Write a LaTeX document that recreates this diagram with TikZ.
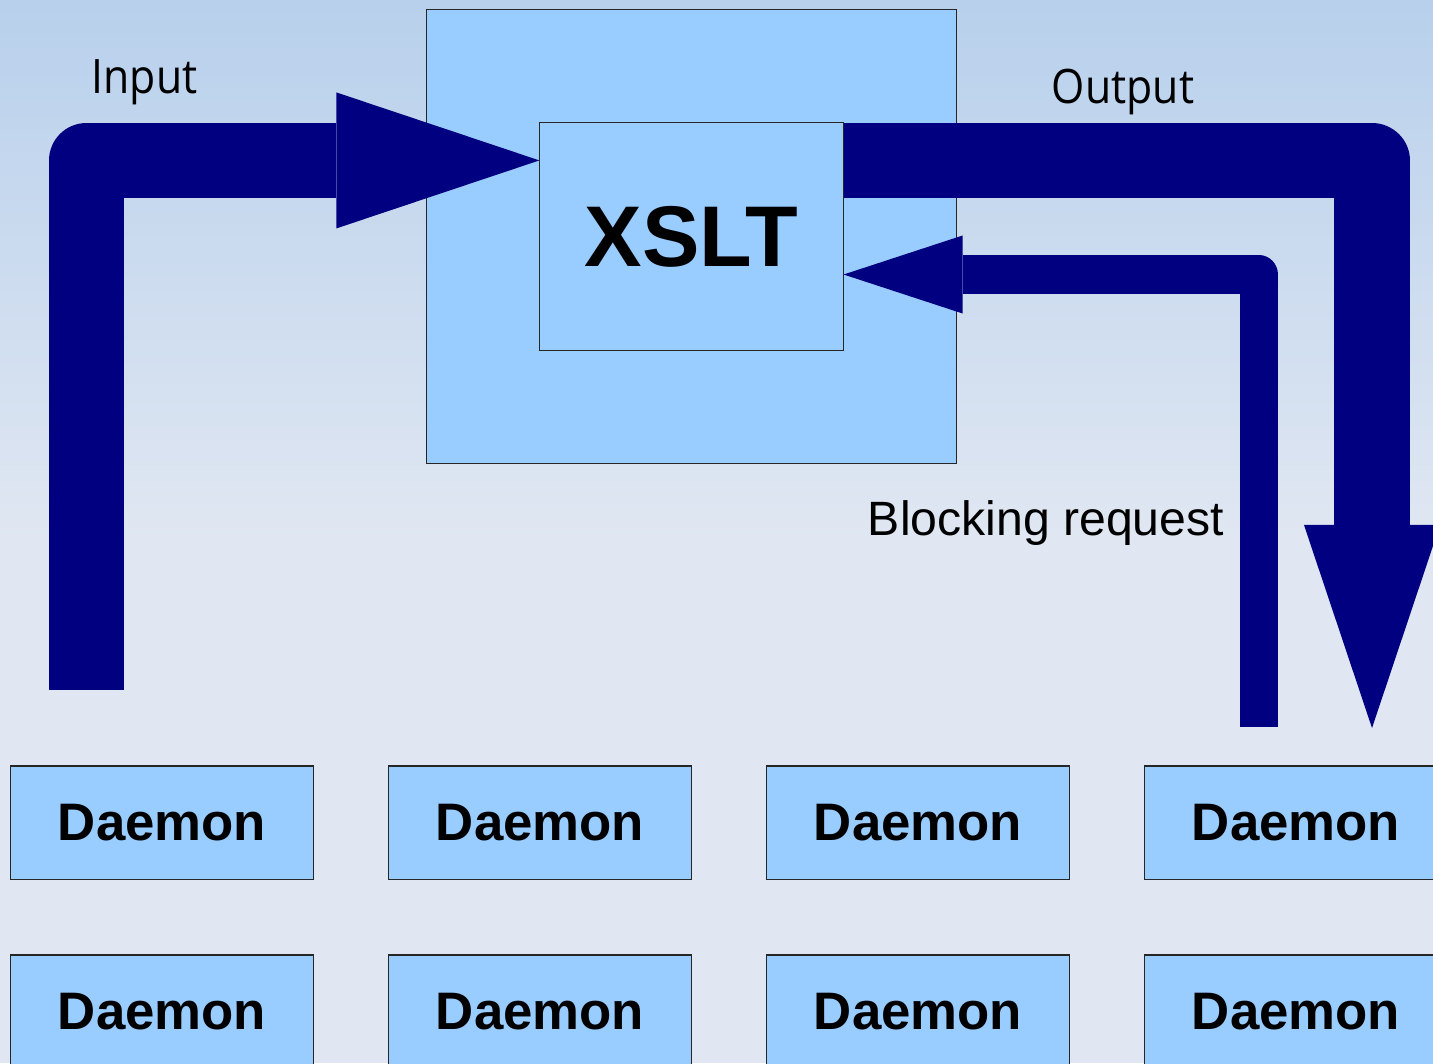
\documentclass[tikz,border=0pt]{standalone}
\usepackage{fontspec}
\setmainfont{Liberation Sans}
\newfontfamily\labelfont[FakeStretch=0.9]{Open Sans}
\usetikzlibrary{arrows.meta,calc}
\definecolor{navyflow}{HTML}{000080}
\definecolor{boxblue}{HTML}{99CCFF}
\definecolor{bgtop}{HTML}{B8D0EC}
\definecolor{bgbottom}{HTML}{E0E7F2}

\begin{document}
\begin{tikzpicture}[x=0.01cm, y=-0.01cm,
    box/.style={draw=black!85, line width=0.3pt, fill=boxblue, inner sep=0pt},
    daemon/.style={box, minimum width=3.02cm, minimum height=1.13cm, font=\bfseries\fontsize{15}{18}\selectfont},
    bigflow/.style={draw=navyflow, line width=0.75cm, line join=round, -{Triangle[length=2.03cm, width=1.36cm, line width=0pt]}},
    smallflow/.style={draw=navyflow, line width=0.38cm, line join=round, -{Triangle[length=1.19cm, width=0.78cm, line width=0pt]}},
    caption/.style={anchor=base, font=\fontsize{13.7}{16}\selectfont}]
    \path[use as bounding box, clip] (0,0) rectangle (1433,1063);
    % background
    \shade[top color=bgtop, bottom color=bgbottom] (0,0) rectangle (1433,540);
    \fill[bgbottom] (0,539) rectangle (1433,1063);

    \node[box, minimum width=5.29cm, minimum height=4.53cm] (engine) at (691.5,236.5) {};
    \node[box, minimum width=3.03cm, minimum height=2.27cm, font=\bfseries\fontsize{24.5}{29}\selectfont] (xslt) at (691.5,236.5) {XSLT};

    \foreach \col in {0,...,3}
        \foreach \row in {0,1}
            \node[daemon] (daemon-\row-\col) at (162+378*\col, 822.5+189*\row) {Daemon};

    \coordinate (inbase) at (86.5,690);
    \coordinate (outtip) at (1372,728);
    \coordinate (reqbase) at (1259,727);
    \draw[bigflow] (inbase) |- ($(xslt.north west)+(0,38)$);
    \draw[bigflow] ($(xslt.north east)+(0,38)$) -| (outtip);
    \draw[smallflow] (reqbase) |- ($(xslt.east)+(0,38)$);

    \node[caption, font=\labelfont\fontsize{13.5}{16}\selectfont] (inlabel) at (144.5,93) {Input};
    \node[caption, font=\labelfont\fontsize{13.5}{16}\selectfont] (outlabel) at (1123,103) {Output};
    \node[caption] (reqlabel) at (1046,535) {Blocking request};
\end{tikzpicture}
\end{document}
